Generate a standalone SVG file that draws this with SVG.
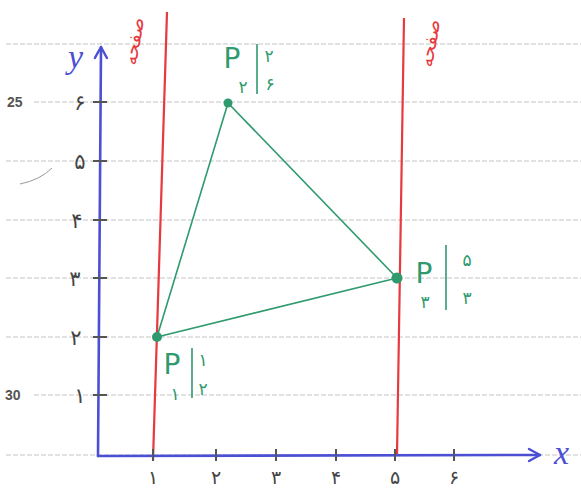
<svg xmlns="http://www.w3.org/2000/svg" width="581" height="490" viewBox="0 0 581 490">
<defs>
<style>
.rule{stroke:#c4c4c4;stroke-width:1;stroke-dasharray:5 2;fill:none}
.axis{stroke:#4b4fd4;stroke-width:2.6;fill:none;stroke-linecap:round}
.tick{stroke:#555;stroke-width:2}
.red{stroke:#e63a3e;stroke-width:2.2;fill:none}
.edge{stroke:#2f9a6e;stroke-width:1.6;fill:none}
.dig{font-family:"DejaVu Sans",sans-serif;fill:#444;font-size:21px;text-anchor:middle}
.xdig{font-family:"DejaVu Sans",sans-serif;fill:#444;font-size:19px;text-anchor:middle}
.gdig{font-family:"DejaVu Sans",sans-serif;fill:#2f9a6e;font-size:17px;text-anchor:middle}
.P{font-family:"DejaVu Sans",sans-serif;fill:#2f9a6e;font-size:28px;text-anchor:middle}
.num{font-family:"Liberation Sans",sans-serif;fill:#555;font-size:14px;font-weight:bold}
.lbl{font-family:"Liberation Serif",serif;font-style:italic;fill:#4b4fd4;font-size:34px}
.redt{font-family:"DejaVu Sans",sans-serif;fill:#e63a3e;font-size:19px}
</style>
<marker id="arr" markerWidth="16" markerHeight="16" refX="13" refY="8" orient="auto" markerUnits="userSpaceOnUse">
<polyline points="2,2 13,8 2,14" fill="none" stroke="#4b4fd4" stroke-width="2.4" stroke-linecap="round" stroke-linejoin="round"/>
</marker>
</defs>
<rect width="581" height="490" fill="#ffffff"/>
<g id="rules">
<line class="rule" x1="6" y1="44" x2="581" y2="44"/>
<line class="rule" x1="34" y1="102" x2="581" y2="102"/>
<line class="rule" x1="6" y1="161" x2="581" y2="161"/>
<line class="rule" x1="6" y1="220" x2="581" y2="220"/>
<line class="rule" x1="6" y1="278" x2="581" y2="278"/>
<line class="rule" x1="6" y1="337" x2="581" y2="337"/>
<line class="rule" x1="34" y1="395" x2="581" y2="395"/>
<line class="rule" x1="6" y1="455" x2="581" y2="455"/>
<text class="num" x="7" y="107">25</text>
<text class="num" x="5" y="400">30</text>
<path d="M20 184 Q40 180 52 168" stroke="#999" stroke-width="1" fill="none"/>
</g>
<g id="planes">
<line class="red" x1="167" y1="12" x2="153" y2="460"/>
<line class="red" x1="404" y1="18" x2="397" y2="455"/>
<text class="redt" transform="translate(136 66) rotate(-80)">صفحه</text>
<text class="redt" transform="translate(432 68) rotate(-80)">صفحه</text>
</g>
<g id="axes">
<line class="axis" x1="98" y1="456" x2="101" y2="47" marker-end="url(#arr)"/>
<line class="axis" x1="98" y1="456" x2="540" y2="455" marker-end="url(#arr)"/>
<text class="lbl" x="68" y="68">y</text>
<text class="lbl" x="554" y="464">x</text>
<line class="tick" x1="93" y1="102" x2="107" y2="102"/>
<line class="tick" x1="93" y1="161" x2="107" y2="161"/>
<line class="tick" x1="93" y1="220" x2="107" y2="220"/>
<line class="tick" x1="93" y1="278" x2="107" y2="278"/>
<line class="tick" x1="93" y1="337" x2="107" y2="337"/>
<line class="tick" x1="93" y1="395" x2="107" y2="395"/>
<text class="dig" x="80" y="110">۶</text>
<text class="dig" x="80" y="169">۵</text>
<text class="dig" x="77" y="228">۴</text>
<text class="dig" x="75" y="286">۳</text>
<text class="dig" x="76" y="345">۲</text>
<text class="dig" x="80" y="403">۱</text>
<line class="tick" x1="153" y1="449" x2="153" y2="461"/>
<line class="tick" x1="216" y1="449" x2="216" y2="461"/>
<line class="tick" x1="276" y1="449" x2="276" y2="461"/>
<line class="tick" x1="336" y1="449" x2="336" y2="461"/>
<line class="tick" x1="395" y1="449" x2="395" y2="461"/>
<line class="tick" x1="454" y1="449" x2="454" y2="461"/>
<text class="xdig" x="153" y="484">۱</text>
<text class="xdig" x="216" y="484">۲</text>
<text class="xdig" x="276" y="484">۳</text>
<text class="xdig" x="336" y="484">۴</text>
<text class="xdig" x="395" y="484">۵</text>
<text class="xdig" x="454" y="484">۶</text>
</g>
<g id="connectors">
<line class="edge" x1="157" y1="337" x2="228" y2="103"/>
<line class="edge" x1="228" y1="103" x2="397" y2="278"/>
<line class="edge" x1="157" y1="337" x2="397" y2="278" stroke-width="2.6"/>
</g>
<g id="P1">
<circle cx="157" cy="337" r="5" fill="#2f9a6e"/>
<text class="P" x="172" y="374">P</text>
<text class="gdig" x="175" y="400">۱</text>
<line class="edge" x1="192" y1="348" x2="192" y2="398" stroke-width="2"/>
<text class="gdig" x="203" y="366">۱</text>
<text class="gdig" x="203" y="395">۲</text>
</g>
<g id="P2">
<circle cx="228" cy="103" r="4.5" fill="#2f9a6e"/>
<text class="P" x="232" y="68">P</text>
<text class="gdig" x="243" y="93">۲</text>
<line class="edge" x1="257" y1="44" x2="257" y2="94" stroke-width="2"/>
<text class="gdig" x="269" y="62">۲</text>
<text class="gdig" x="270" y="90">۶</text>
</g>
<g id="P3">
<circle cx="397" cy="278" r="5.5" fill="#2f9a6e"/>
<text class="P" x="424" y="283">P</text>
<text class="gdig" x="425" y="308">۳</text>
<line class="edge" x1="446" y1="245" x2="446" y2="310" stroke-width="2"/>
<text class="gdig" x="467" y="266">۵</text>
<text class="gdig" x="467" y="304">۳</text>
</g>
</svg>
